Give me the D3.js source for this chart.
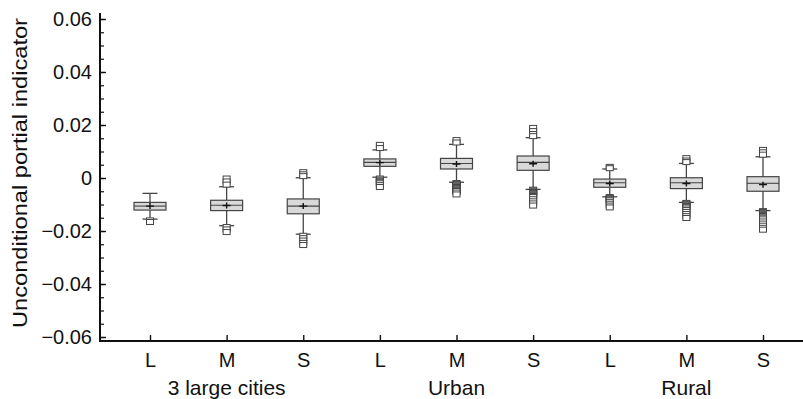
<!DOCTYPE html>
<html>
<head>
<meta charset="utf-8">
<script src="https://cdn.jsdelivr.net/npm/d3@7"></script>
<style>
  body { margin: 0; background: #fff; }
  text { font-family: "Liberation Sans", Arial, sans-serif; fill: #111; }
</style>
</head>
<body>
<svg id="chart" width="803" height="399"></svg>
<script>
//categories
var groups = ["3 large cities", "Urban", "Rural"];
var sizes = ["L", "M", "S"];

//box statistics, one value per box (L, M, S of each group in turn)
var boxTop      = [-0.0092, -0.0084, -0.0079,  0.0072,  0.0074,  0.0083, -0.0004,  0.0001,  0.0005];
var boxBottom   = [-0.0121, -0.0123, -0.0135,  0.0044,  0.0034,  0.0029, -0.0035, -0.0040, -0.0050];
var medians     = [-0.0106, -0.0103, -0.0106,  0.0059,  0.0055,  0.0059, -0.0018, -0.0018, -0.0020];
var means       = [-0.0106, -0.0104, -0.0106,  0.0058,  0.0053,  0.0054, -0.0021, -0.0021, -0.0025];
var whiskerHigh = [-0.0058, -0.0033,  0.0001,  0.0106,  0.0127,  0.0152,  0.0034,  0.0055,  0.0080];
var whiskerLow  = [-0.0155, -0.0180, -0.0212,  0.0003, -0.0016, -0.0043, -0.0071, -0.0092, -0.0123];
var outliers = [
  [-0.0160, -0.0166],
  [-0.0002, -0.0013, -0.0025, -0.0185, -0.0194, -0.0204],
  [0.0022, 0.0014, 0.0007, -0.0218, -0.0227, -0.0236, -0.0245, -0.0253],
  [0.0125, 0.0113, -0.0002, -0.0006, -0.0010, -0.0013, -0.0016, -0.0020, -0.0027, -0.0034],
  [0.0143, 0.0134, -0.0019, -0.0022, -0.0025, -0.0028, -0.0031, -0.0034, -0.0037, -0.0040,
   -0.0043, -0.0046, -0.0049, -0.0055, -0.0062],
  [0.0189, 0.0177, 0.0166, 0.0158, -0.0044, -0.0047, -0.0050, -0.0053, -0.0056, -0.0059,
   -0.0062, -0.0065, -0.0068, -0.0072, -0.0080, -0.0088, -0.0096, -0.0104],
  [0.0042, 0.0037, -0.0072, -0.0075, -0.0078, -0.0081, -0.0084, -0.0090, -0.0097, -0.0104, -0.0111],
  [0.0075, 0.0066, 0.0060, -0.0094, -0.0097, -0.0100, -0.0103, -0.0106, -0.0110, -0.0115,
   -0.0121, -0.0128, -0.0136, -0.0144, -0.0151],
  [0.0106, 0.0097, 0.0088, -0.0125, -0.0128, -0.0131, -0.0134, -0.0137, -0.0140, -0.0143,
   -0.0146, -0.0150, -0.0156, -0.0164, -0.0172, -0.0180, -0.0188, -0.0195]
];
var yTicks = [-0.06, -0.04, -0.02, 0, 0.02, 0.04, 0.06];
var yTitle = "Unconditional portial indicator";

//build the table of boxes
var boxes = [];
groups.forEach(function(g, gi) {
  sizes.forEach(function(s, si) {
    var i = gi * sizes.length + si;
    boxes.push({
      key: g + "|" + s, group: g, size: s,
      q3: boxTop[i], q1: boxBottom[i], median: medians[i], mean: means[i],
      hi: whiskerHigh[i], lo: whiskerLow[i], out: outliers[i]
    });
  });
});

var svg = d3.select("#chart");
var axisLeftX = 100, axisBottomY = 341;

//scales
var x = d3.scalePoint()
  .domain(boxes.map(function(d) { return d.key; }))
  .range([150, 763]);
var y = d3.scaleLinear()
  .domain([-0.06, 0.06])
  .range([337, 19]);

/*----------------------
AXES
----------------------*/
//minor y ticks
var yMinor = svg.append("g")
  .attr("transform", "translate(" + axisLeftX + ",0)")
  .call(d3.axisLeft(y).ticks(24).tickSize(-4).tickFormat(""));
yMinor.select(".domain").remove();
yMinor.selectAll("line").attr("stroke", "#111").attr("stroke-width", 1.2);

var yAxis = svg.append("g")
  .attr("transform", "translate(" + axisLeftX + ",0)")
  .call(d3.axisLeft(y).tickValues(yTicks).tickSize(-6).tickPadding(8)
    .tickFormat(function(d) { return d === 0 ? "0" : d3.format(".2f")(d); }));
yAxis.select(".domain").remove();
yAxis.selectAll("line").attr("stroke", "#111").attr("stroke-width", 1.4);
yAxis.selectAll("text")
  .style("font-size", "20px")
  .style("font-family", "'Liberation Sans', Arial, sans-serif")
  .attr("fill", "#111");

var xAxis = svg.append("g")
  .attr("transform", "translate(0," + axisBottomY + ")")
  .call(d3.axisBottom(x).tickSize(-6).tickPadding(12)
    .tickFormat(function(d) { return d.split("|")[1]; }));
xAxis.select(".domain").remove();
xAxis.selectAll("line").attr("stroke", "#111").attr("stroke-width", 1.4);
xAxis.selectAll("text")
  .style("font-size", "20px")
  .style("font-family", "'Liberation Sans', Arial, sans-serif")
  .attr("fill", "#111");

//axis lines
svg.append("line")
  .attr("x1", axisLeftX).attr("x2", axisLeftX)
  .attr("y1", 13).attr("y2", axisBottomY + 1)
  .attr("stroke", "#111").attr("stroke-width", 2);
svg.append("line")
  .attr("x1", axisLeftX - 1).attr("x2", 803)
  .attr("y1", axisBottomY).attr("y2", axisBottomY)
  .attr("stroke", "#111").attr("stroke-width", 2);

//group labels under the middle box of each group
svg.selectAll(".group-label")
  .data(groups)
  .enter()
  .append("text")
    .attr("class", "group-label")
    .attr("x", function(g) { return x(g + "|M"); })
    .attr("y", 395)
    .attr("text-anchor", "middle")
    .style("font-size", "21px")
    .text(function(g) { return g; });

//y title
var title = svg.append("text")
  .attr("transform", "translate(27,173) rotate(-90)")
  .attr("text-anchor", "middle")
  .style("font-size", "21px")
  .text(yTitle);
title.attr("textLength", 310).attr("lengthAdjust", "spacingAndGlyphs");

/*----------------------
BOXES
----------------------*/
var boxW = 32, capW = 15, outW = 7, outH = 5;
var stroke = "#444";

var box = svg.selectAll(".box")
  .data(boxes)
  .enter()
  .append("g")
    .attr("class", "box")
    .attr("transform", function(d) { return "translate(" + x(d.key) + ",0)"; });

//whiskers
box.append("line")
  .attr("y1", function(d) { return y(d.hi); })
  .attr("y2", function(d) { return y(d.lo); })
  .attr("stroke", stroke).attr("stroke-width", 1.3);
box.append("line")
  .attr("x1", -capW / 2).attr("x2", capW / 2)
  .attr("y1", function(d) { return y(d.hi); })
  .attr("y2", function(d) { return y(d.hi); })
  .attr("stroke", stroke).attr("stroke-width", 1.3);
box.append("line")
  .attr("x1", -capW / 2).attr("x2", capW / 2)
  .attr("y1", function(d) { return y(d.lo); })
  .attr("y2", function(d) { return y(d.lo); })
  .attr("stroke", stroke).attr("stroke-width", 1.3);

//outliers
box.selectAll(".out")
  .data(function(d) { return d.out; })
  .enter()
  .append("rect")
    .attr("class", "out")
    .attr("x", -outW / 2)
    .attr("y", function(v) { return y(v) - outH / 2; })
    .attr("width", outW)
    .attr("height", outH)
    .attr("fill", "#fff")
    .attr("stroke", stroke)
    .attr("stroke-width", 1);

//box body
box.append("rect")
  .attr("x", -boxW / 2)
  .attr("y", function(d) { return y(d.q3); })
  .attr("width", boxW)
  .attr("height", function(d) { return y(d.q1) - y(d.q3); })
  .attr("fill", "#d9d9d9")
  .attr("stroke", stroke)
  .attr("stroke-width", 1.2);

//median
box.append("line")
  .attr("x1", -boxW / 2).attr("x2", boxW / 2)
  .attr("y1", function(d) { return y(d.median); })
  .attr("y2", function(d) { return y(d.median); })
  .attr("stroke", stroke).attr("stroke-width", 1.1);

//mean marker
box.append("path")
  .attr("d", function(d) {
    var my = y(d.mean);
    return "M-4," + my + "H4M0," + (my - 3) + "V" + (my + 3);
  })
  .attr("stroke", "#111").attr("stroke-width", 1.4).attr("fill", "none");
</script>
</body>
</html>
